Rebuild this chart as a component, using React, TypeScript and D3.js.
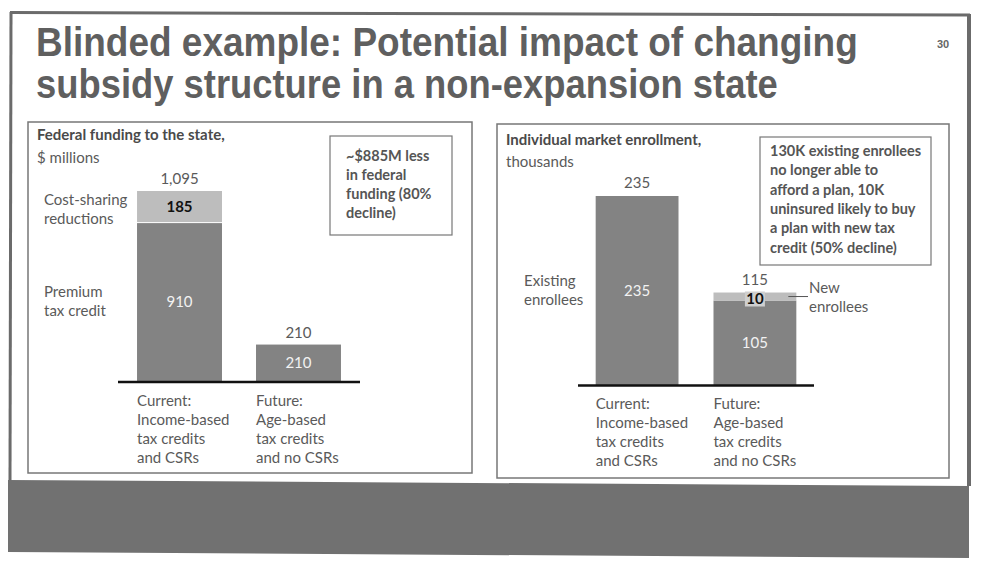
import React, { useLayoutEffect, useRef } from "react";
import * as d3 from "d3";

const leftCategories = ["Current", "Future"];
const catLabels = [
  ["Current:", "Income-based", "tax credits", "and CSRs"],
  ["Future:", "Age-based", "tax credits", "and no CSRs"],
];
const premiumTaxCredit = [910, 210];
const costSharing = [185, 0];

const rightCategories = ["Current", "Future"];
const existingEnrollees = [235, 105];
const newEnrollees = [0, 10];

const titleLines = [
  "Blinded example: Potential impact of changing",
  "subsidy structure in a non-expansion state",
];
const titleWidths = [822, 742];
const leftNote = ["~$885M less", "in federal", "funding (80%", "decline)"];
const rightNote = [
  "130K existing enrollees",
  "no longer able to",
  "afford a plan, 10K",
  "uninsured likely to buy",
  "a plan with new tax",
  "credit (50% decline)",
];

const FONT = "Lato, 'Open Sans', sans-serif";
const DARK = "#838383";
const LIGHT = "#bdbdbd";
const TXT = "#5a5a5a";
const FS = 15;

const fmt = d3.format(",");

function FitText({ text, x, y, width, ...rest }: any) {
  const ref = useRef<SVGTextElement>(null);
  useLayoutEffect(() => {
    const el = ref.current;
    if (!el) return;
    el.removeAttribute("transform");
    const w = el.getComputedTextLength();
    if (w > 0) {
      const s = width / w;
      el.setAttribute("transform", `translate(${x},${y}) scale(${s},1)`);
    }
  }, [text, x, y, width]);
  return (
    <text ref={ref} x={0} y={0} transform={`translate(${x},${y})`} {...rest}>
      {text}
    </text>
  );
}

export default function App() {
  const lx = d3.scaleBand<string>().domain(leftCategories).range([118, 360]).paddingInner(0.286).paddingOuter(0.16);
  const lTotals = premiumTaxCredit.map((v, i) => v + costSharing[i]);
  const ly = d3.scaleLinear().domain([0, d3.max(lTotals) as number]).range([381, 191]);

  const rx = d3.scaleBand<string>().domain(rightCategories).range([578, 814]).paddingInner(0.297).paddingOuter(0.15);
  const rTotals = existingEnrollees.map((v, i) => v + newEnrollees[i]);
  const ry = d3.scaleLinear().domain([0, d3.max(rTotals) as number]).range([385, 196]);

  return (
    <svg width={981} height={574} style={{ position: "absolute", left: 0, top: 0, background: "#fff" }} fontFamily={FONT}>
      {/* slide frame */}
      <line x1={10} y1={12.5} x2={970} y2={15} stroke="#6b6b6b" strokeWidth={3} />
      <line x1={11} y1={12} x2={10} y2={482} stroke="#6b6b6b" strokeWidth={3} />
      <line x1={969} y1={14} x2={969} y2={486} stroke="#6b6b6b" strokeWidth={4} />
      <polygon points="8,480 969,486 969,558 8,552" fill="#717171" />

      {/* title */}
      {titleLines.map((t, i) => (
        <FitText
          key={i}
          text={t}
          x={36}
          y={56 + i * 42}
          width={titleWidths[i]}
          fontFamily="'Liberation Sans Narrow', 'Liberation Sans', Arial, sans-serif"
          fontWeight="bold"
          fontSize={41}
          fill="#5f5f5f"
        />
      ))}
      <text x={943} y={48} fontSize={11} fontWeight="bold" fill="#666" textAnchor="middle" fontFamily="'Liberation Sans', sans-serif">30</text>

      {/* panels */}
      <rect x={28} y={122} width={444} height={351} fill="none" stroke="#777" strokeWidth={1.5} />
      <rect x={497} y={124} width={452} height={354} fill="none" stroke="#777" strokeWidth={1.5} />

      {/* LEFT PANEL */}
      <text x={37} y={140} fontSize={15} fontWeight="bold" fill="#4a4a4a">Federal funding to the state,</text>
      <text x={37} y={163} fontSize={15} fill={TXT}>$ millions</text>
      <rect x={330} y={136} width={122} height={99} fill="#fff" stroke="#777" strokeWidth={1.2} />
      {leftNote.map((t, i) => (
        <text key={i} x={346} y={161 + i * 19} fontSize={14.5} fontWeight="bold" fill="#555">{t}</text>
      ))}
      <text x={44} y={205} fontSize={FS} fill={TXT}>Cost-sharing</text>
      <text x={44} y={224} fontSize={FS} fill={TXT}>reductions</text>
      <text x={44} y={297} fontSize={FS} fill={TXT}>Premium</text>
      <text x={44} y={316} fontSize={FS} fill={TXT}>tax credit</text>

      {leftCategories.map((c, i) => {
        const x0 = lx(c) as number;
        const w = lx.bandwidth();
        const cx = x0 + w / 2;
        const ptcTop = ly(premiumTaxCredit[i]);
        const totTop = ly(lTotals[i]);
        return (
          <g key={c}>
            <rect x={x0} y={ptcTop} width={w} height={ly(0) - ptcTop} fill={DARK} />
            {costSharing[i] > 0 && (
              <>
                <rect x={x0} y={totTop} width={w} height={ptcTop - totTop - 1} fill={LIGHT} />
                <text x={cx} y={(totTop + ptcTop) / 2 + 5} textAnchor="middle" fontSize={FS} fontWeight="bold" fill="#111">{fmt(costSharing[i])}</text>
              </>
            )}
            <text x={cx} y={(ptcTop + ly(0)) / 2 + 5} textAnchor="middle" fontSize={FS} fill="#f2f2f2">{fmt(premiumTaxCredit[i])}</text>
            <text x={cx} y={totTop - 7} textAnchor="middle" fontSize={FS} fill={TXT}>{fmt(lTotals[i])}</text>
            {catLabels[i].map((t, j) => (
              <text key={j} x={x0} y={406 + j * 19} fontSize={FS} fill={TXT}>{t}</text>
            ))}
          </g>
        );
      })}
      <line x1={118} x2={360} y1={382} y2={382} stroke="#111" strokeWidth={2.5} />

      {/* RIGHT PANEL */}
      <text x={506} y={145} fontSize={15} fontWeight="bold" fill="#4a4a4a">Individual market enrollment,</text>
      <text x={506} y={167} fontSize={15} fill={TXT}>thousands</text>
      <rect x={760} y={137} width={171} height={128} fill="#fff" stroke="#777" strokeWidth={1.2} />
      {rightNote.map((t, i) => (
        <text key={i} x={770} y={156 + i * 19.3} fontSize={14.5} fontWeight="bold" fill="#555">{t}</text>
      ))}
      <text x={524} y={286} fontSize={FS} fill={TXT}>Existing</text>
      <text x={524} y={305} fontSize={FS} fill={TXT}>enrollees</text>
      <text x={809} y={293} fontSize={FS} fill={TXT}>New</text>
      <text x={809} y={312} fontSize={FS} fill={TXT}>enrollees</text>

      {rightCategories.map((c, i) => {
        const x0 = rx(c) as number;
        const w = rx.bandwidth();
        const cx = x0 + w / 2;
        const exTop = ry(existingEnrollees[i]);
        const totTop = ry(rTotals[i]);
        return (
          <g key={c}>
            <rect x={x0} y={exTop} width={w} height={ry(0) - exTop} fill={DARK} />
            {newEnrollees[i] > 0 && (
              <>
                <rect x={x0} y={totTop} width={w} height={exTop - totTop} fill={LIGHT} />
                <line x1={x0 + w - 8} x2={808} y1={(totTop + exTop) / 2} y2={(totTop + exTop) / 2} stroke="#555" strokeWidth={1} />
                <rect x={cx - 10} y={totTop - 1} width={20} height={15} fill="#cfcfcf" />
                <text x={cx} y={totTop + 11} textAnchor="middle" fontSize={FS} fontWeight="bold" fill="#111">{fmt(newEnrollees[i])}</text>
              </>
            )}
            <text x={cx} y={(exTop + ry(0)) / 2 + 5} textAnchor="middle" fontSize={FS} fill="#f2f2f2">{fmt(existingEnrollees[i])}</text>
            <text x={cx} y={totTop - 8} textAnchor="middle" fontSize={FS} fill={TXT}>{fmt(rTotals[i])}</text>
            {catLabels[i].map((t, j) => (
              <text key={j} x={x0} y={409 + j * 19} fontSize={FS} fill={TXT}>{t}</text>
            ))}
          </g>
        );
      })}
      <line x1={578} x2={814} y1={385.5} y2={385.5} stroke="#111" strokeWidth={2.5} />
    </svg>
  );
}
